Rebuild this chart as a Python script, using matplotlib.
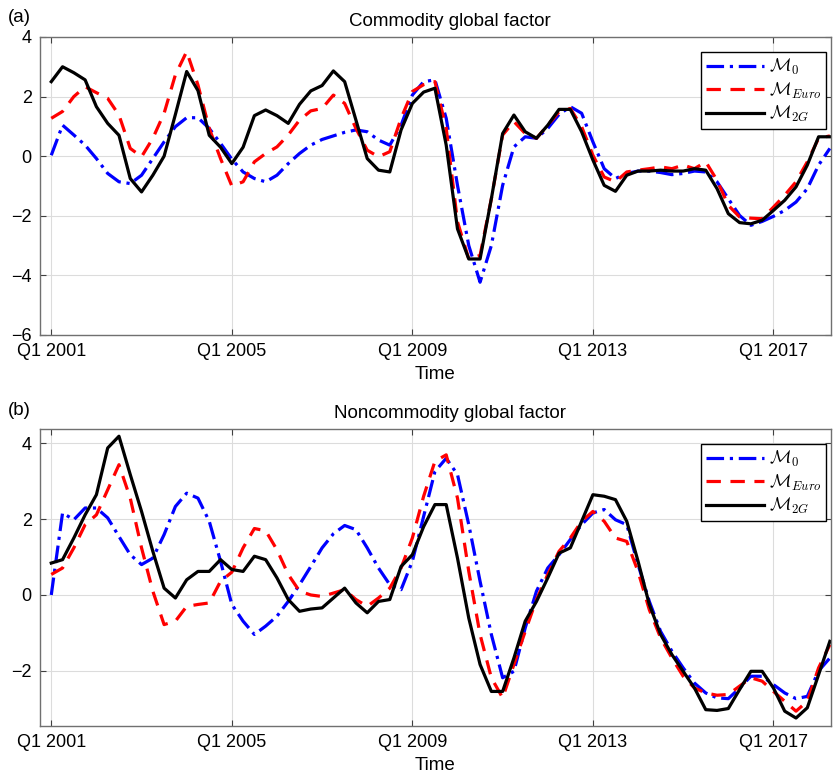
import numpy as np
import matplotlib
matplotlib.use("Agg")
import matplotlib.pyplot as plt

plt.rcParams['font.family'] = ['Liberation Sans', 'DejaVu Sans']
plt.rcParams['mathtext.fontset'] = 'cm'

# quarterly factor estimates, Q1 2001 .. Q2 2018
tick_pos = [0, 16, 32, 48, 64]
tick_labels = ['Q1 2001', 'Q1 2005', 'Q1 2009', 'Q1 2013', 'Q1 2017']
series_names = [r'$\mathcal{M}_0$', r'$\mathcal{M}_{Euro}$', r'$\mathcal{M}_{2G}$']

# (a) commodity global factor
com_m0 = [0.03, 1.04, 0.71, 0.37, -0.08, -0.58, -0.86, -0.92, -0.64, -0.08,
          0.48, 0.99, 1.29, 1.29, 0.93, 0.43, -0.1, -0.53, -0.75, -0.86,
          -0.64, -0.25, 0.09, 0.37, 0.56, 0.68, 0.8, 0.88, 0.82, 0.54,
          0.37, 1.04, 2.05, 2.5, 2.56, 1.27, -0.98, -3.0, -4.23, -3.0,
          -0.98, 0.31, 0.65, 0.6, 0.93, 1.4, 1.66, 1.44, 0.48, -0.42,
          -0.75, -0.58, -0.5, -0.5, -0.55, -0.62, -0.58, -0.5, -0.53, -0.86,
          -1.43, -1.99, -2.32, -2.19, -2.02, -1.82, -1.54, -1.09, -0.3, 0.26]
com_euro = [1.27, 1.5, 2.0, 2.33, 2.13, 1.94, 1.38, 0.26, -0.02, 0.6,
            1.44, 2.73, 3.51, 2.39, 0.93, -0.08, -1.0, -0.86, -0.19, 0.09,
            0.31, 0.71, 1.21, 1.52, 1.6, 2.05, 1.77, 0.93, 0.2, -0.02,
            0.15, 1.27, 2.17, 2.4, 2.5, 0.93, -2.2, -3.45, -3.33, -1.43,
            0.71, 1.16, 0.76, 0.6, 1.04, 1.49, 1.6, 0.99, 0.03, -0.7,
            -0.86, -0.53, -0.47, -0.42, -0.36, -0.42, -0.3, -0.42, -0.19, -0.81,
            -1.65, -2.04, -2.08, -2.1, -1.71, -1.31, -0.86, -0.19, 0.6, 0.68]
com_2g = [2.5, 3.0, 2.8, 2.56, 1.66, 1.1, 0.7, -0.75, -1.2, -0.64,
          0.0, 1.4, 2.84, 2.2, 0.7, 0.3, -0.25, 0.3, 1.36, 1.55,
          1.36, 1.1, 1.74, 2.19, 2.37, 2.86, 2.5, 1.21, -0.08, -0.47,
          -0.53, 0.88, 1.77, 2.15, 2.28, 0.37, -2.44, -3.45, -3.45, -1.43,
          0.76, 1.38, 0.82, 0.6, 1.04, 1.57, 1.57, 0.82, -0.13, -0.98,
          -1.18, -0.64, -0.5, -0.5, -0.47, -0.5, -0.5, -0.42, -0.47, -1.09,
          -1.93, -2.23, -2.27, -2.15, -1.82, -1.48, -1.03, -0.3, 0.65, 0.65]

# (b) noncommodity global factor
non_m0 = [0.0, 2.16, 1.98, 2.29, 2.29, 2.03, 1.54, 1.06, 0.8, 0.97,
          1.59, 2.33, 2.68, 2.55, 1.94, 0.89, -0.25, -0.69, -1.04, -0.82,
          -0.56, -0.17, 0.27, 0.75, 1.24, 1.61, 1.83, 1.72, 1.24, 0.71,
          0.27, 0.14, 0.89, 2.07, 3.25, 3.6, 3.17, 1.85, 0.36, -1.04,
          -2.18, -2.01, -0.87, 0.1, 0.71, 1.06, 1.46, 1.85, 2.16, 2.25,
          1.98, 1.85, 0.8, -0.17, -0.96, -1.48, -1.92, -2.32, -2.58, -2.71,
          -2.73, -2.45, -2.14, -2.14, -2.36, -2.58, -2.73, -2.67, -2.0, -1.66]
non_euro = [0.54, 0.71, 1.24, 1.85, 2.11, 2.77, 3.43, 2.55, 1.24, 0.1,
            -0.78, -0.69, -0.3, -0.25, -0.21, 0.36, 0.6, 1.24, 1.75, 1.69,
            1.19, 0.54, 0.1, 0.0, -0.04, 0.05, 0.14, -0.12, -0.3, -0.08,
            0.18, 0.71, 1.5, 2.6, 3.52, 3.69, 2.55, 0.62, -1.04, -2.18,
            -2.71, -1.83, -0.96, -0.12, 0.54, 1.15, 1.5, 1.94, 2.2, 1.94,
            1.5, 1.41, 0.62, -0.39, -1.13, -1.66, -2.14, -2.45, -2.58, -2.64,
            -2.62, -2.4, -2.18, -2.27, -2.54, -2.8, -3.06, -2.8, -1.92, -1.31]
non_2g = [0.84, 0.93, 1.5, 2.11, 2.64, 3.87, 4.18, 3.17, 2.2, 1.15,
          0.18, -0.08, 0.4, 0.62, 0.62, 0.93, 0.67, 0.62, 1.02, 0.93,
          0.45, -0.12, -0.43, -0.37, -0.34, -0.08, 0.18, -0.21, -0.47, -0.17,
          -0.12, 0.75, 1.06, 1.8, 2.38, 2.38, 0.97, -0.61, -1.83, -2.54,
          -2.54, -1.66, -0.69, -0.17, 0.45, 1.1, 1.24, 1.94, 2.64, 2.6,
          2.51, 1.94, 0.89, -0.25, -1.04, -1.57, -2.01, -2.45, -3.02, -3.04,
          -2.99, -2.49, -2.01, -2.01, -2.45, -3.06, -3.24, -2.97, -2.1, -1.22]

styles = [dict(color='#0000ff', linestyle=(0, (5.5, 1.8, 1.0, 1.8)), lw=2.3),
          dict(color='#ff0000', linestyle=(0, (4.5, 3.0)), lw=2.3),
          dict(color='black', linestyle='-', lw=2.3)]

fig = plt.figure(figsize=(8.33, 7.83), dpi=100)
ax_a = fig.add_axes([0.048, 0.5722, 0.9496, 0.3806])
ax_b = fig.add_axes([0.048, 0.0728, 0.9496, 0.3793])


def draw_panel(ax, data, title, ylim, yticks):
    t = np.arange(len(data[0]))
    for y, name, st in zip(data, series_names, styles):
        ax.plot(t, y, label=name, **st)
    ax.set_xlim(-1, 69.1)
    ax.set_ylim(*ylim)
    ax.set_xticks(tick_pos)
    ax.set_xticklabels(tick_labels)
    ax.set_yticks(yticks)
    ax.grid(True, color='#dcdcdc', lw=0.8)
    ax.set_axisbelow(True)
    ax.tick_params(direction='in', top=True, right=True, labelsize=13,
                   length=4, color='#404040', pad=6)
    for s in ax.spines.values():
        s.set_color('#707070')
        s.set_linewidth(1.0)
    ax.set_title(title, fontsize=13.5, x=0.518, pad=8)
    ax.set_xlabel('Time', fontsize=13.5, labelpad=4)
    leg = ax.legend(loc='upper right', bbox_to_anchor=(0.994, 0.948),
                    fontsize=13, handlelength=3.2, fancybox=False,
                    framealpha=1, edgecolor='black', borderpad=0.25,
                    labelspacing=0.2, handletextpad=0.3, borderaxespad=0)
    leg.get_frame().set_linewidth(1.0)


draw_panel(ax_a, [com_m0, com_euro, com_2g], 'Commodity global factor',
           (-6, 4), [-6, -4, -2, 0, 2, 4])
draw_panel(ax_b, [non_m0, non_euro, non_2g], 'Noncommodity global factor',
           (-3.45, 4.37), [-2, 0, 2, 4])

fig.text(8 / 833, 1 - 18 / 783, '(a)', fontsize=13.5, va='center')
fig.text(8 / 833, 1 - 410 / 783, '(b)', fontsize=13.5, va='center')

fig.savefig('out.png', dpi=100)
